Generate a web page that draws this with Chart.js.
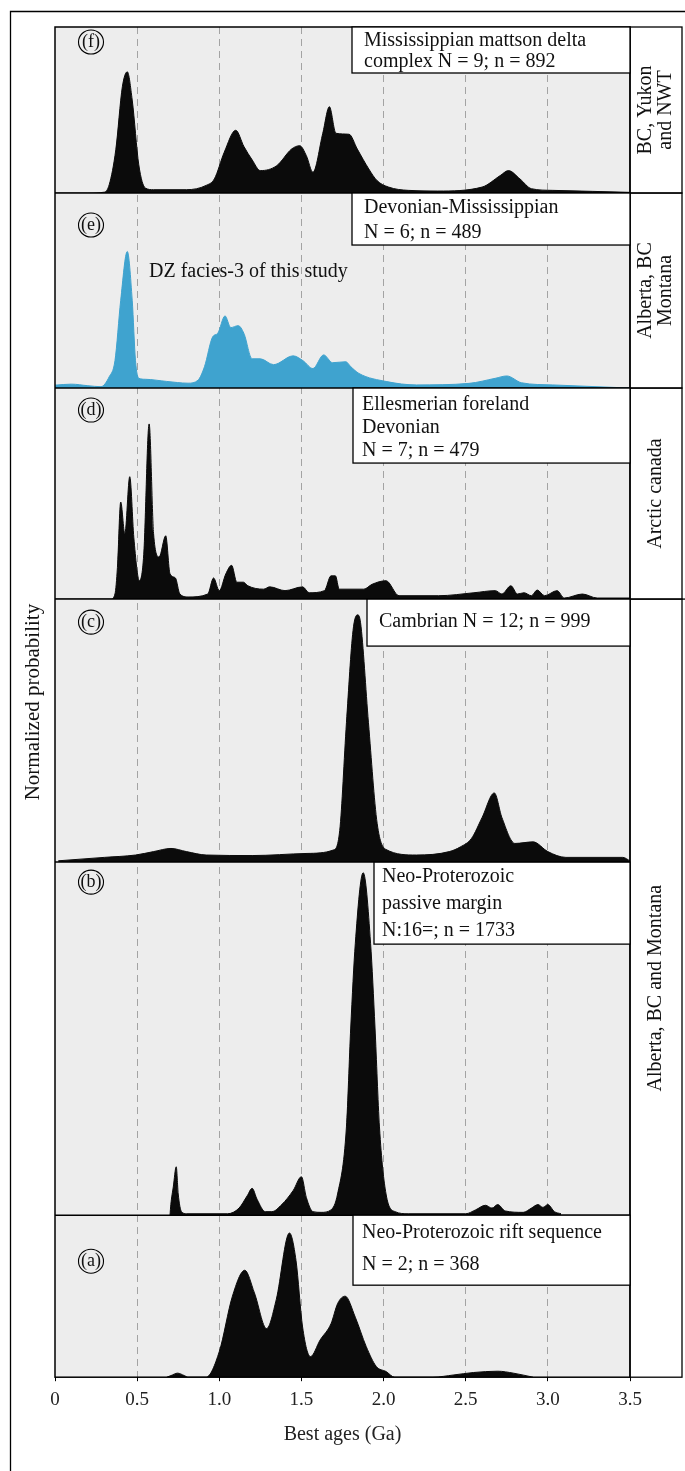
<!DOCTYPE html>
<html>
<head>
<meta charset="utf-8">
<title>Detrital zircon age spectra</title>
<script src="https://cdn.jsdelivr.net/npm/chart.js@4.4.1/dist/chart.umd.min.js"></script>
<style>
  html, body { margin: 0; padding: 0; background: #fff; }
  canvas { display: block; }
</style>
</head>
<body>
<canvas id="dz" width="685" height="1471"></canvas>
<script>
// ---- data: best age (Ga) vs normalized probability ----
const xTicks = [0, 0.5, 1.0, 1.5, 2.0, 2.5, 3.0, 3.5];

// (f) Mississippian mattson delta complex
const ageF = [0, 0.20, 0.30, 0.33, 0.37, 0.41, 0.44, 0.47, 0.51, 0.55, 0.60, 0.80, 0.92, 0.97, 1.03, 1.10, 1.15, 1.20, 1.25, 1.35,
  1.44, 1.49, 1.53, 1.57, 1.63, 1.67, 1.71, 1.79, 1.84, 1.91, 1.96, 2.03, 2.15, 2.33, 2.60, 2.71, 2.76, 2.83, 2.90, 3.03, 3.27, 3.50];
const probF = [0, 0, 0.005, 0.05, 0.26, 0.64, 0.73, 0.56, 0.17, 0.03, 0.02, 0.02, 0.046, 0.085, 0.245, 0.378, 0.28, 0.20, 0.135, 0.165,
  0.265, 0.285, 0.225, 0.125, 0.36, 0.52, 0.36, 0.354, 0.265, 0.145, 0.075, 0.036, 0.016, 0.012, 0.036, 0.105, 0.135, 0.085, 0.026, 0.016, 0.01, 0.004];

// (e) Devonian-Mississippian, DZ facies-3 of this study
const ageE = [0, 0.10, 0.20, 0.28, 0.33, 0.365, 0.40, 0.44, 0.47, 0.49, 0.51, 0.55, 0.68, 0.81, 0.87, 0.91, 0.96, 0.99, 1.035, 1.07,
  1.115, 1.15, 1.20, 1.25, 1.33, 1.45, 1.51, 1.57, 1.635, 1.69, 1.77, 1.80, 1.85, 2.02, 2.20, 2.52, 2.68, 2.75, 2.84, 3.03, 3.50];
const probE = [0.015, 0.02, 0.012, 0.007, 0.058, 0.14, 0.45, 0.70, 0.45, 0.14, 0.05, 0.045, 0.034, 0.025, 0.04, 0.11, 0.263, 0.28, 0.37, 0.31,
  0.32, 0.28, 0.15, 0.15, 0.12, 0.165, 0.14, 0.10, 0.17, 0.13, 0.135, 0.11, 0.075, 0.033, 0.016, 0.024, 0.05, 0.062, 0.027, 0.016, 0];

// (d) Ellesmerian foreland Devonian
const ageD = [0, 0.34, 0.365, 0.38, 0.40, 0.425, 0.455, 0.48, 0.514, 0.54, 0.573, 0.60, 0.634, 0.674, 0.70, 0.733, 0.76, 0.81, 0.93, 0.965,
  1.0, 1.04, 1.075, 1.107, 1.147, 1.174, 1.27, 1.307, 1.40, 1.507, 1.547, 1.64, 1.68, 1.707, 1.73, 1.88, 1.93, 2.015, 2.094, 2.335,
  2.55, 2.68, 2.72, 2.775, 2.815, 2.855, 2.90, 2.935, 2.98, 3.056, 3.10, 3.21, 3.30, 3.50];
const probD = [0, 0, 0.024, 0.15, 0.46, 0.31, 0.58, 0.29, 0.087, 0.21, 0.83, 0.31, 0.20, 0.30, 0.12, 0.10, 0.024, 0.01, 0.024, 0.10,
  0.04, 0.12, 0.16, 0.08, 0.08, 0.063, 0.047, 0.058, 0.04, 0.058, 0.03, 0.04, 0.11, 0.11, 0.047, 0.047, 0.07, 0.087, 0.016, 0.016,
  0.03, 0.04, 0.024, 0.063, 0.024, 0.03, 0.016, 0.043, 0.016, 0.04, 0.005, 0.024, 0.005, 0.005];

// (c) Cambrian
const ageC = [0.02, 0.30, 0.49, 0.60, 0.706, 0.80, 0.92, 1.20, 1.534, 1.694, 1.733, 1.774, 1.814, 1.841, 1.86, 1.908, 1.961, 2.015, 2.20, 2.40,
  2.468, 2.535, 2.60, 2.674, 2.72, 2.80, 2.91, 3.00, 3.11, 3.456, 3.50];
const probC = [0.005, 0.018, 0.027, 0.04, 0.052, 0.04, 0.027, 0.025, 0.033, 0.046, 0.12, 0.53, 0.88, 0.94, 0.91, 0.53, 0.147, 0.048, 0.027, 0.04,
  0.058, 0.09, 0.17, 0.263, 0.17, 0.071, 0.077, 0.04, 0.018, 0.018, 0.005];

// (b) Neo-Proterozoic passive margin
const ageB = [0.70, 0.705, 0.72, 0.738, 0.75, 0.77, 0.80, 1.05, 1.12, 1.17, 1.20, 1.23, 1.28, 1.32, 1.38, 1.45, 1.50, 1.53, 1.57, 1.62,
  1.68, 1.72, 1.774, 1.80, 1.828, 1.876, 1.921, 1.948, 1.975, 2.015, 2.07, 2.15, 2.50, 2.56, 2.62, 2.66, 2.695, 2.74, 2.85, 2.90,
  2.94, 2.97, 3.00, 3.04, 3.08];
const probB = [0, 0.03, 0.08, 0.137, 0.06, 0.01, 0.004, 0.004, 0.02, 0.055, 0.076, 0.045, 0.01, 0.01, 0.03, 0.07, 0.109, 0.05, 0.01, 0.008,
  0.015, 0.06, 0.25, 0.53, 0.77, 0.97, 0.77, 0.53, 0.25, 0.06, 0.01, 0.004, 0.004, 0.015, 0.028, 0.02, 0.03, 0.012, 0.008, 0.02,
  0.03, 0.022, 0.03, 0.01, 0.004];

// (a) Neo-Proterozoic rift sequence
const ageA = [0.68, 0.706, 0.746, 0.787, 0.81, 0.92, 1.0, 1.08, 1.155, 1.214, 1.288, 1.347, 1.427, 1.467, 1.507, 1.555, 1.614, 1.68, 1.721, 1.766,
  1.828, 1.894, 1.956, 2.015, 2.068, 2.30, 2.428, 2.548, 2.695, 2.79, 2.91];
const probA = [0, 0.01, 0.025, 0.01, 0, 0, 0.158, 0.50, 0.66, 0.52, 0.30, 0.48, 0.89, 0.72, 0.31, 0.127, 0.23, 0.33, 0.456, 0.50,
  0.37, 0.19, 0.066, 0.035, 0, 0, 0.014, 0.029, 0.037, 0.025, 0];

const SERIF = '"Liberation Serif", "DejaVu Serif", serif';
const INK = '#111';

// panels from bottom (first) to top (last): stacked axes put the last one on top
const panels = [
  { id: 'yA', tag: '(a)', ages: ageA, probs: probA, color: '#0b0b0b', weight: 162, tagY: 46,
    box: { x: 353, h: 70, tx: 362, lines: ['Neo-Proterozoic rift sequence', 'N = 2; n = 368'], ly: [18, 50] } },
  { id: 'yB', tag: '(b)', ages: ageB, probs: probB, color: '#0b0b0b', weight: 353, tagY: 20,
    box: { x: 374, h: 82, tx: 382, lines: ['Neo-Proterozoic', 'passive margin', 'N:16=; n = 1733'], ly: [15, 42, 69] } },
  { id: 'yC', tag: '(c)', ages: ageC, probs: probC, color: '#0b0b0b', weight: 263, tagY: 23,
    box: { x: 367, h: 47, tx: 379, lines: ['Cambrian N = 12; n = 999'], ly: [23] } },
  { id: 'yD', tag: '(d)', ages: ageD, probs: probD, color: '#0b0b0b', weight: 211, tagY: 22,
    box: { x: 353, h: 75, tx: 362, lines: ['Ellesmerian foreland', 'Devonian', 'N = 7; n = 479'], ly: [17, 40, 63] } },
  { id: 'yE', tag: '(e)', ages: ageE, probs: probE, color: '#3fa3cf', weight: 195, tagY: 32,
    box: { x: 352, h: 52, tx: 364, lines: ['Devonian-Mississippian', 'N = 6; n = 489'], ly: [15, 40] } },
  { id: 'yF', tag: '(f)', ages: ageF, probs: probF, color: '#0b0b0b', weight: 166, tagY: 15,
    box: { x: 352, h: 46, tx: 364, lines: ['Mississippian mattson delta', 'complex N = 9; n = 892'], ly: [14, 35] } }
];

// regions written in the right-hand column: which panels they span
const regions = [
  { from: 'yF', to: 'yF', lines: ['BC, Yukon', 'and NWT'] },
  { from: 'yE', to: 'yE', lines: ['Alberta, BC', 'Montana'] },
  { from: 'yD', to: 'yD', lines: ['Arctic canada'] },
  { from: 'yC', to: 'yA', lines: ['Alberta, BC and Montana'] }
];

const datasets = panels.map(p => ({
  label: p.tag,
  data: p.ages.map((a, i) => ({ x: a, y: p.probs[i] })),
  yAxisID: p.id,
  borderColor: p.color,
  backgroundColor: p.color,
  borderWidth: 1,
  pointRadius: 0,
  fill: 'origin',
  cubicInterpolationMode: 'monotone'
}));

const scales = {
  x: {
    type: 'linear', position: 'bottom', min: 0, max: 3.5,
    afterBuildTicks: axis => { axis.ticks = xTicks.map(v => ({ value: v })); },
    ticks: {
      padding: 7, color: '#222', font: { family: SERIF, size: 19 },
      callback: v => (v === 0 ? '0' : Number(v).toFixed(1))
    },
    grid: {
      color: c => (c.tick && (c.tick.value === 0 || c.tick.value === 3.5)) ? 'rgba(0,0,0,0)' : '#a3a3a3',
      lineWidth: 1, tickColor: '#000', tickLength: 4, tickWidth: 1
    },
    border: { display: false, dash: [7, 5] },
    title: {
      display: true, text: 'Best ages (Ga)', color: '#222',
      font: { family: SERIF, size: 20 }, padding: { top: 5, bottom: 0 }
    }
  }
};
panels.forEach(p => {
  scales[p.id] = {
    type: 'linear', position: 'left', stack: 'dz', stackWeight: p.weight,
    min: 0, max: 1,
    ticks: { display: false },
    grid: { display: false, drawTicks: false },
    border: { display: false }
  };
});

function text(ctx, s, x, y, size, align) {
  ctx.font = size + 'px ' + SERIF;
  ctx.textAlign = align || 'left';
  ctx.textBaseline = 'middle';
  ctx.fillText(s, x, y);
}

const decor = {
  id: 'decor',
  beforeDraw(chart) {
    const { ctx, chartArea: ca } = chart;
    ctx.save();
    ctx.fillStyle = '#fff';
    ctx.fillRect(0, 0, chart.width, chart.height);
    ctx.fillStyle = '#ededed';
    ctx.fillRect(ca.left, ca.top, ca.right - ca.left, ca.bottom - ca.top);
    ctx.restore();
  },
  afterDatasetsDraw(chart) {
    const { ctx, chartArea: ca } = chart;
    const colL = ca.right, colR = ca.right + 52;
    ctx.save();
    ctx.strokeStyle = '#000';
    ctx.fillStyle = INK;

    // plot frame and panel separators
    ctx.lineWidth = 1.5;
    ctx.strokeRect(ca.left, ca.top, ca.right - ca.left, ca.bottom - ca.top);
    panels.forEach(p => {
      const s = chart.scales[p.id];
      if (s.top > ca.top + 1) {
        ctx.beginPath();
        ctx.moveTo(ca.left, s.top);
        ctx.lineTo(ca.right, s.top);
        ctx.stroke();
      }
    });

    // right-hand region column
    ctx.lineWidth = 1.3;
    regions.forEach(r => {
      const top = chart.scales[r.from].top, bot = chart.scales[r.to].bottom;
      ctx.strokeRect(colL, top, colR - colL, bot - top);
      ctx.save();
      ctx.translate((colL + colR) / 2, (top + bot) / 2);
      ctx.rotate(-Math.PI / 2);
      const n = r.lines.length;
      r.lines.forEach((l, i) => text(ctx, l, 0, (i - (n - 1) / 2) * 20, 20, 'center'));
      ctx.restore();
    });
    const cTop = chart.scales.yC.top;
    ctx.beginPath();
    ctx.moveTo(colR, cTop);
    ctx.lineTo(chart.width, cTop);
    ctx.stroke();

    // sample boxes and panel tags
    panels.forEach(p => {
      const s = chart.scales[p.id];
      const b = p.box;
      ctx.fillStyle = '#fff';
      ctx.fillRect(b.x, s.top, ca.right - b.x, b.h);
      ctx.lineWidth = 1.3;
      ctx.strokeRect(b.x, s.top, ca.right - b.x, b.h);
      ctx.fillStyle = INK;
      b.lines.forEach((l, i) => text(ctx, l, b.tx, s.top + b.ly[i], 20));

      ctx.lineWidth = 1.1;
      ctx.beginPath();
      ctx.ellipse(ca.left + 36, s.top + p.tagY, 12.5, 12, 0, 0, Math.PI * 2);
      ctx.stroke();
      text(ctx, p.tag, ca.left + 36, s.top + p.tagY, 18, 'center');
    });
    text(ctx, 'DZ facies-3 of this study', 149, chart.scales.yE.top + 79, 20);

    // outer figure frame and y title
    ctx.lineWidth = 1.3;
    ctx.beginPath();
    ctx.moveTo(10.5, chart.height);
    ctx.lineTo(10.5, 11.5);
    ctx.lineTo(chart.width, 11.5);
    ctx.stroke();
    ctx.save();
    ctx.translate(33, (ca.top + ca.bottom) / 2);
    ctx.rotate(-Math.PI / 2);
    text(ctx, 'Normalized probability', 0, 0, 21, 'center');
    ctx.restore();
    ctx.restore();
  }
};

new Chart(document.getElementById('dz'), {
  type: 'line',
  data: { datasets },
  options: {
    responsive: false,
    animation: false,
    devicePixelRatio: 1,
    parsing: true,
    layout: { padding: { left: 55, right: 55, top: 27, bottom: 24 } },
    plugins: { legend: { display: false }, tooltip: { enabled: false } },
    scales
  },
  plugins: [decor]
});
</script>
</body>
</html>
